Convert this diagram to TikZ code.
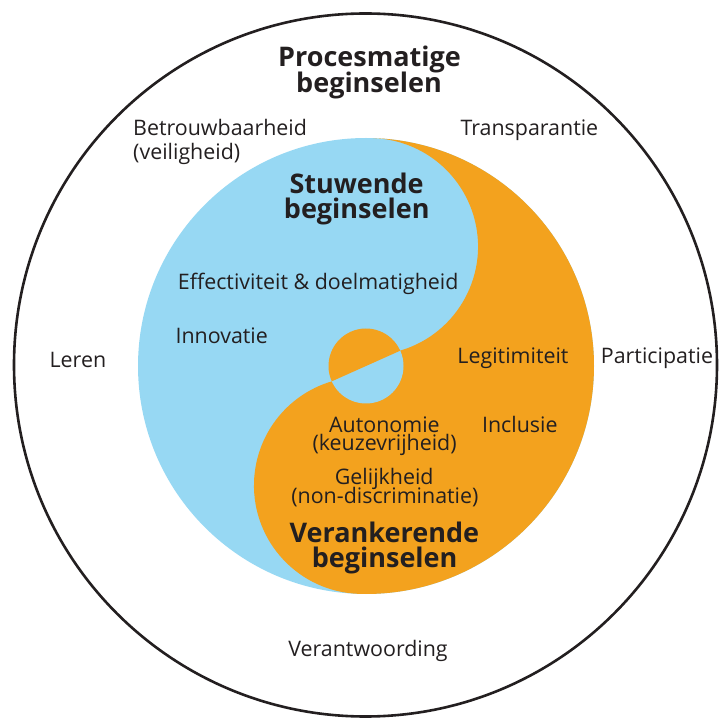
\documentclass[tikz,border=0pt]{standalone}
\usepackage{fontspec}
\setmainfont{Open Sans}
\definecolor{skyb}{RGB}{151,216,243}
\definecolor{orng}{RGB}{243,162,30}
\definecolor{ink}{RGB}{35,31,32}
\begin{document}
\begin{tikzpicture}[x=1pt,y=1pt,
  txt/.style={text=ink,font=\fontsize{21.4}{21.4}\selectfont,inner sep=0pt,anchor=base},
  head/.style={text=ink,font=\fontsize{27}{27}\selectfont\bfseries,inner sep=0pt,anchor=base}]
\useasboundingbox (0,0) rectangle (728,718);
% outer ring
\draw[ink, line width=2.6] (365.5,353) circle[radius=351.5];
% yin-yang
\fill[skyb] (366,352) circle[radius=228];
\fill[orng] (372.76,579.90) arc[start angle=88.3,end angle=-91.7,radius=228]
  arc[start angle=268.3,end angle=106.68,radius=108.5]
  -- (400.69,367.52)
  arc[start angle=-73.32,end angle=88.3,radius=108.5] -- cycle;
% central small circle
\fill[skyb] (366,352) circle[radius=37.5];
\fill[orng] (400.23,367.31) arc[start angle=24.1,end angle=204.1,radius=37.5] -- cycle;
% texts
\node[head] (proc1) at (369.5,651.8) {Procesmatige};
\node[head] (proc2) at (369,625.3) {beginselen};
\node[txt,anchor=base west] (betr1) at (133,582.4) {Betrouwbaarheid};
\node[txt,anchor=base west] (betr2) at (133,558.2) {(veiligheid)};
\node[txt] (trans) at (529.4,582.4) {Transparantie};
\node[head] (stuw1) at (356.6,524.8) {Stuwende};
\node[head] (stuw2) at (356.7,499.7) {beginselen};
\node[txt] (eff) at (318.2,428.5) {Effectiviteit \& doelmatigheid};
\node[txt] (inno) at (221.7,374.6) {Innovatie};
\node[txt] (leren) at (77.9,350.5) {Leren};
\node[txt] (legit) at (513,354) {Legitimiteit};
\node[txt] (part) at (657,354) {Participatie};
\node[txt] (auto1) at (384.4,285.8) {Autonomie};
\node[txt] (auto2) at (384.6,267.8) {(keuzevrijheid)};
\node[txt] (incl) at (519.8,285.6) {Inclusie};
\node[txt] (gel1) at (384.2,233.2) {Gelijkheid};
\node[txt] (gel2) at (384.9,214.8) {(non-discriminatie)};
\node[head] (ver1) at (384.4,176) {Verankerende};
\node[head] (ver2) at (384.6,150.4) {beginselen};
\node[txt] (verant) at (368,62) {Verantwoording};
\end{tikzpicture}
\end{document}
